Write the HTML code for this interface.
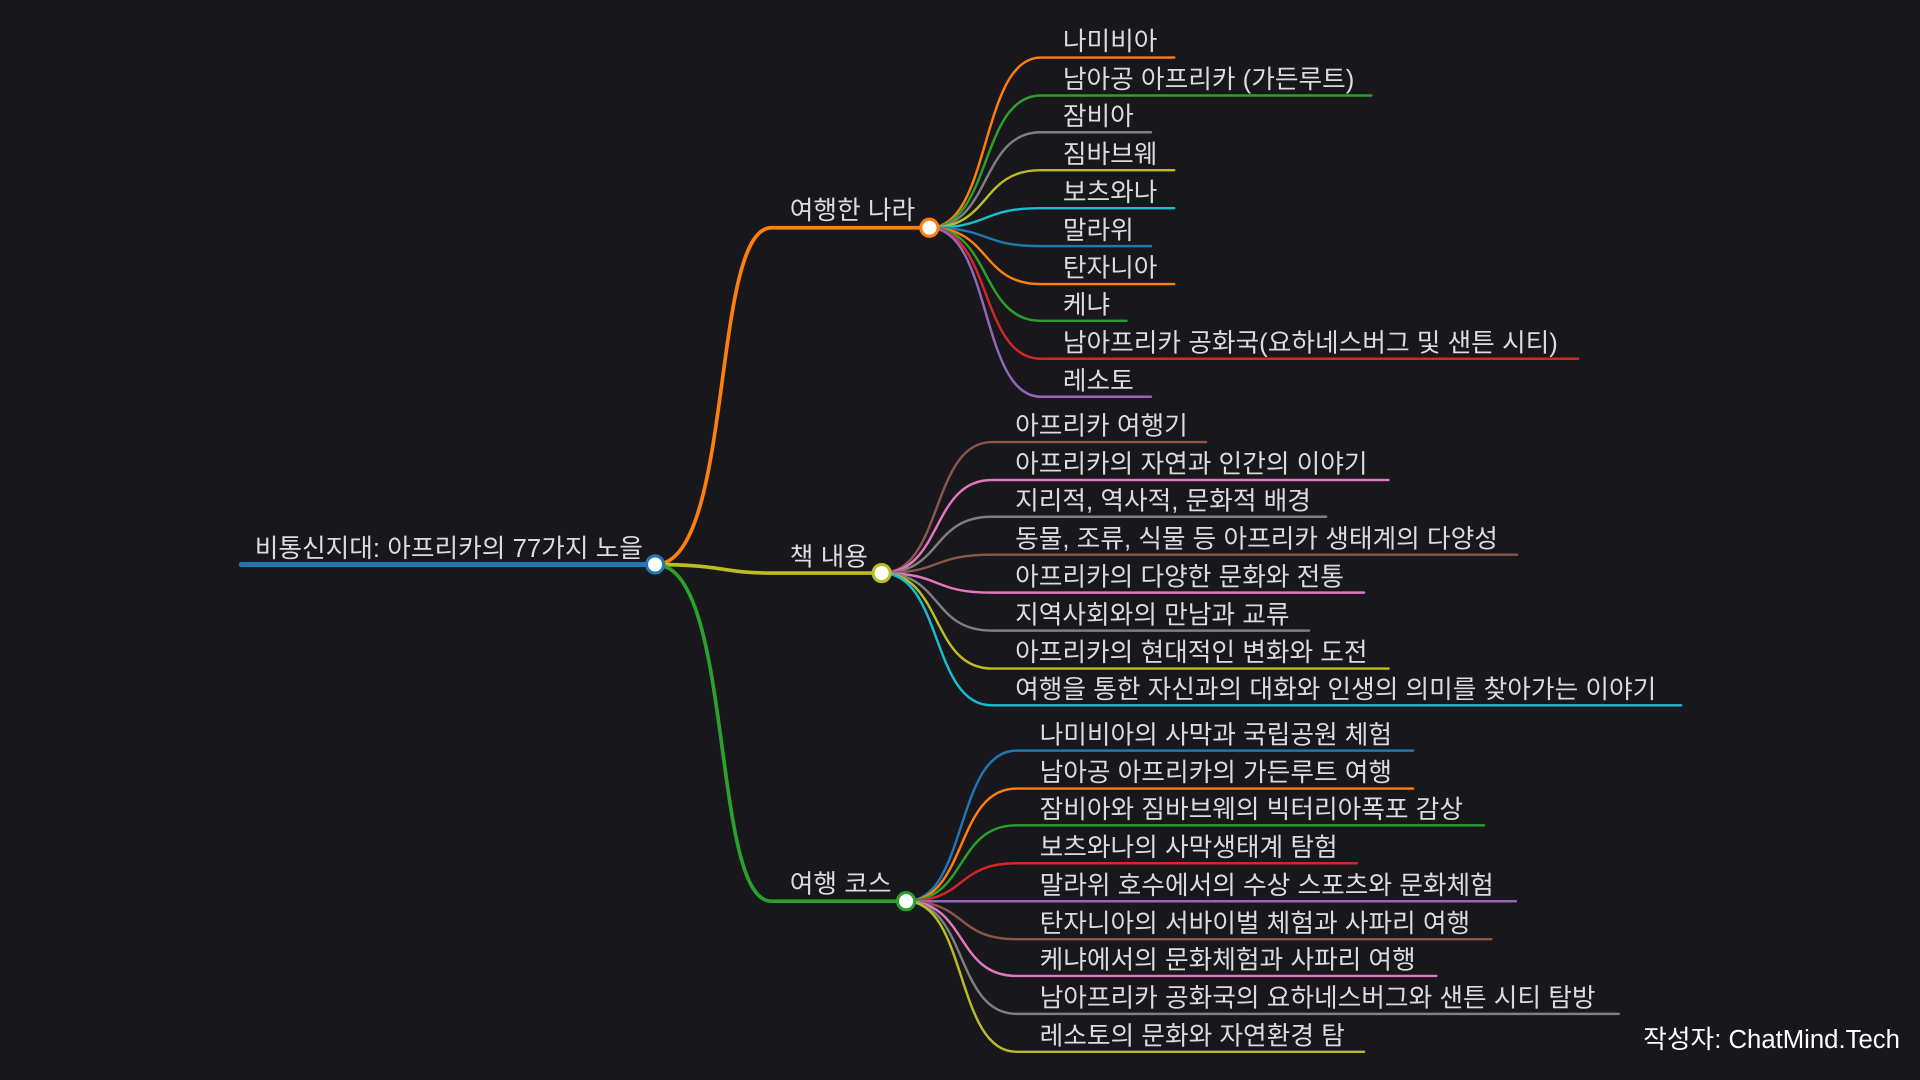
<!DOCTYPE html>
<html><head><meta charset="utf-8"><style>
html,body{margin:0;padding:0;background:#18171c;}
svg{display:block}
text{font-family:"Liberation Sans","Noto Sans CJK KR","NanumGothic",sans-serif;fill:#dcdcdc;font-size:21px}
</style></head><body>
<svg width="1920" height="1080" viewBox="0 0 1568 882" xmlns="http://www.w3.org/2000/svg">
<rect x="0" y="0" width="1568" height="882" fill="#18171c"/>
<g fill="none" stroke-linecap="round">
<path d="M535 461 C600 461,580 186,630 186 L759 186" stroke="#ff7f0e" stroke-width="3"/>
<path d="M535 461 C590 461,590 468,630 468 L720 468" stroke="#bcbd22" stroke-width="3"/>
<path d="M535 461 C600 461,580 736,630 736 L740 736" stroke="#2ca02c" stroke-width="3"/>
<line x1="197" y1="461" x2="535" y2="461" stroke="#1f77b4" stroke-width="4"/>
<g stroke-width="2">
<path d="M759 186 C810 186,800 47,850 47 L959 47" stroke="#ff7f0e"/>
<path d="M759 186 C810 186,800 78,850 78 L1120 78" stroke="#2ca02c"/>
<path d="M759 186 C810 186,800 108,850 108 L940 108" stroke="#7f7f7f"/>
<path d="M759 186 C810 186,800 139,850 139 L959 139" stroke="#bcbd22"/>
<path d="M759 186 C810 186,800 170,850 170 L959 170" stroke="#17becf"/>
<path d="M759 186 C810 186,800 201,850 201 L940 201" stroke="#1f77b4"/>
<path d="M759 186 C810 186,800 232,850 232 L959 232" stroke="#ff7f0e"/>
<path d="M759 186 C810 186,800 262,850 262 L920 262" stroke="#2ca02c"/>
<path d="M759 186 C810 186,800 293,850 293 L1289 293" stroke="#d62728"/>
<path d="M759 186 C810 186,800 324,850 324 L940 324" stroke="#9467bd"/>
</g>
<g stroke-width="2">
<path d="M720 468 C770 468,760 361,810 361 L985 361" stroke="#8c564b"/>
<path d="M720 468 C770 468,760 392,810 392 L1134 392" stroke="#e377c2"/>
<path d="M720 468 C770 468,760 422,810 422 L1083 422" stroke="#7f7f7f"/>
<path d="M720 468 C770 468,760 453,810 453 L1239 453" stroke="#8c564b"/>
<path d="M720 468 C770 468,760 484,810 484 L1114 484" stroke="#e377c2"/>
<path d="M720 468 C770 468,760 515,810 515 L1069 515" stroke="#7f7f7f"/>
<path d="M720 468 C770 468,760 546,810 546 L1134 546" stroke="#bcbd22"/>
<path d="M720 468 C770 468,760 576,810 576 L1373 576" stroke="#17becf"/>
</g>
<g stroke-width="2">
<path d="M740 736 C790 736,780 613,830 613 L1154 613" stroke="#1f77b4"/>
<path d="M740 736 C790 736,780 644,830 644 L1154 644" stroke="#ff7f0e"/>
<path d="M740 736 C790 736,780 674,830 674 L1212 674" stroke="#2ca02c"/>
<path d="M740 736 C790 736,780 705,830 705 L1108 705" stroke="#d62728"/>
<path d="M740 736 C790 736,780 736,830 736 L1238 736" stroke="#9467bd"/>
<path d="M740 736 C790 736,780 767,830 767 L1218 767" stroke="#8c564b"/>
<path d="M740 736 C790 736,780 797,830 797 L1173 797" stroke="#e377c2"/>
<path d="M740 736 C790 736,780 828,830 828 L1322 828" stroke="#7f7f7f"/>
<path d="M740 736 C790 736,780 859,830 859 L1114 859" stroke="#bcbd22"/>
</g>
</g>
<g fill="#fff" stroke-width="2.5">
<circle cx="535" cy="461" r="7" stroke="#1f77b4"/>
<circle cx="759" cy="186" r="7" stroke="#ff7f0e"/>
<circle cx="720" cy="468" r="7" stroke="#bcbd22"/>
<circle cx="740" cy="736" r="7" stroke="#2ca02c"/>
</g>
<text x="208" y="455">비통신지대: 아프리카의 77가지 노을</text>
<text x="645" y="179">여행한 나라</text>
<text x="645" y="462">책 내용</text>
<text x="645" y="729">여행 코스</text>

<text x="868" y="41">나미비아</text>
<text x="868" y="72">남아공 아프리카 (가든루트)</text>
<text x="868" y="102">잠비아</text>
<text x="868" y="133">짐바브웨</text>
<text x="868" y="164">보츠와나</text>
<text x="868" y="195">말라위</text>
<text x="868" y="226">탄자니아</text>
<text x="868" y="256">케냐</text>
<text x="868" y="287">남아프리카 공화국(요하네스버그 및 샌튼 시티)</text>
<text x="868" y="318">레소토</text>

<text x="829" y="355">아프리카 여행기</text>
<text x="829" y="386">아프리카의 자연과 인간의 이야기</text>
<text x="829" y="416">지리적, 역사적, 문화적 배경</text>
<text x="829" y="447">동물, 조류, 식물 등 아프리카 생태계의 다양성</text>
<text x="829" y="478">아프리카의 다양한 문화와 전통</text>
<text x="829" y="509">지역사회와의 만남과 교류</text>
<text x="829" y="540">아프리카의 현대적인 변화와 도전</text>
<text x="829" y="570">여행을 통한 자신과의 대화와 인생의 의미를 찾아가는 이야기</text>

<text x="849" y="607">나미비아의 사막과 국립공원 체험</text>
<text x="849" y="638">남아공 아프리카의 가든루트 여행</text>
<text x="849" y="668">잠비아와 짐바브웨의 빅터리아폭포 감상</text>
<text x="849" y="699">보츠와나의 사막생태계 탐험</text>
<text x="849" y="730">말라위 호수에서의 수상 스포츠와 문화체험</text>
<text x="849" y="761">탄자니아의 서바이벌 체험과 사파리 여행</text>
<text x="849" y="791">케냐에서의 문화체험과 사파리 여행</text>
<text x="849" y="822">남아프리카 공화국의 요하네스버그와 샌튼 시티 탐방</text>
<text x="849" y="853">레소토의 문화와 자연환경 탐</text>

<text x="1342" y="856" style="fill:#fff;font-size:21px">작성자: ChatMind.Tech</text>
</svg>
</body></html>
